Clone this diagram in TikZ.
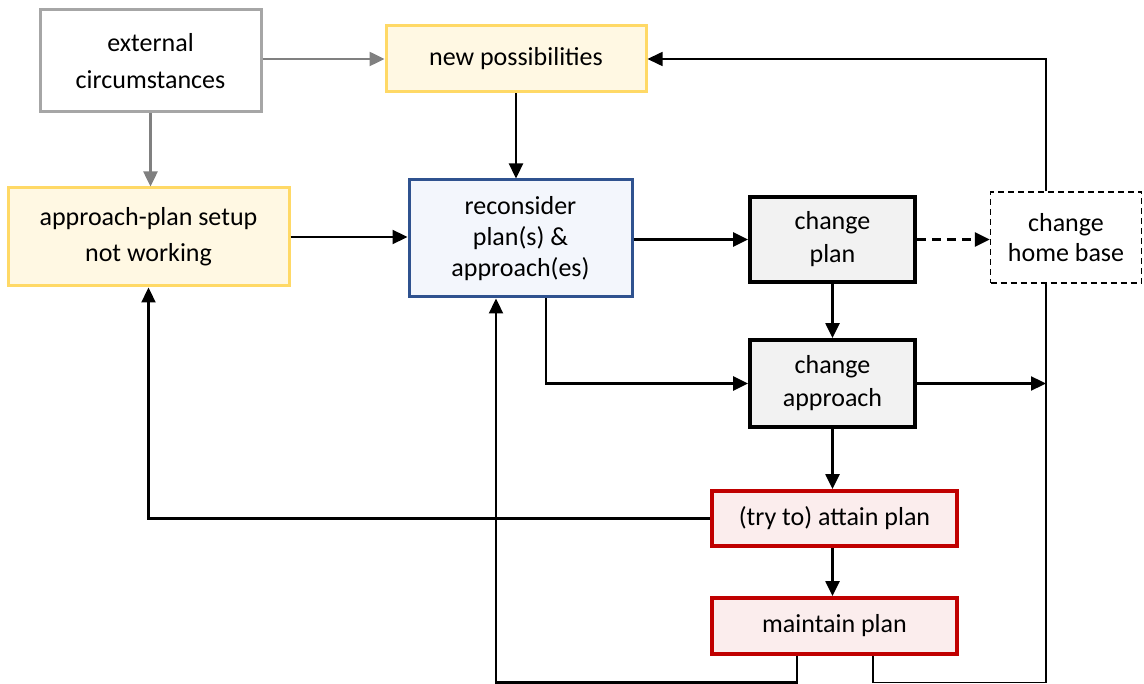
\documentclass[tikz,border=0pt]{standalone}
\usepackage{fontspec}
\setmainfont{Carlito}
\usetikzlibrary{arrows.meta}
\definecolor{ylwb}{HTML}{FFD966}
\definecolor{ylwf}{HTML}{FFF8E3}
\definecolor{blub}{HTML}{2F528F}
\definecolor{bluf}{HTML}{F3F6FC}
\definecolor{grb}{HTML}{A6A6A6}
\definecolor{grf}{HTML}{F2F2F2}
\definecolor{redb}{HTML}{C00000}
\definecolor{redf}{HTML}{FBEDED}
\definecolor{garr}{HTML}{808080}
\begin{document}
\begin{tikzpicture}[x=1pt,y=-1pt,
  box/.style={rectangle,inner sep=0pt,align=center,line width=3pt,
    font=\fontsize{26}{33}\selectfont},
  extbox/.style={box,draw=grb,fill=white},
  ylwbox/.style={box,draw=ylwb,fill=ylwf},
  blubox/.style={box,draw=blub,fill=bluf},
  grbox/.style={box,draw=black,fill=grf,line width=3.8pt},
  dbox/.style={box,draw=black,fill=white,dashed,line width=1.3pt,dash pattern=on 6pt off 4pt},
  redbox/.style={box,draw=redb,fill=redf,line width=3.8pt},
  arr/.style={line width=2.3pt,-{Triangle[length=15pt,width=14pt]}},
  garrow/.style={arr,draw=garr,line width=2.5pt,-{Triangle[length=15pt,width=14pt,fill=garr]}},
  thinl/.style={line width=1.6pt}]
\useasboundingbox (0,0) rectangle (1144,684);
\node[extbox,minimum width=221,minimum height=102,font=\fontsize{26}{37}\selectfont] (ext) at (150.5,61) {external\\circumstances};
\node[ylwbox,minimum width=260,minimum height=66] (newp) at (516,59) {new possibilities};
\node[ylwbox,minimum width=281,minimum height=98,font=\fontsize{26}{36}\selectfont] (appr) at (148.5,237) {approach-plan setup\\not working};
\node[blubox,minimum width=223,minimum height=117,font=\fontsize{26}{31}\selectfont] (recon) at (520.5,238.5) {reconsider\\plan(s) \&\\approach(es)};
\node[grbox,minimum width=165,minimum height=85] (cplan) at (832.5,239.5) {change\\plan};
\node[dbox,minimum width=151,minimum height=91,font=\fontsize{26}{30}\selectfont] (home) at (1066,237.5) {change\\home base};
\node[grbox,minimum width=165,minimum height=87] (cappr) at (832.5,383.5) {change\\approach};
\node[redbox,minimum width=245,minimum height=55] (attain) at (834.5,518.5) {(try to) attain plan};
\node[redbox,minimum width=245,minimum height=56] (maint) at (834.5,626) {maintain plan};
\coordinate (vx) at (1046,0);
\coordinate (bot) at (0,682.5);
\coordinate (ml) at ([xshift=-37.5]maint.south);
\coordinate (mr) at ([xshift=38.5]maint.south);
\coordinate (rl) at ([xshift=-24.5]recon.south);
\coordinate (rr) at ([xshift=25.5]recon.south);
% connectors
\draw[garrow] (ext.east|-newp) -- (newp.west);
\draw[garrow] (ext.south) -- (ext.south|-appr.north);
\draw[arr] (newp.south) -- (newp.south|-recon.north);
\draw[arr] (appr.east) -- (appr.east-|recon.west);
\draw[arr] (recon.east|-cplan.west) -- (cplan.west);
\draw[arr,dash pattern=on 9pt off 6pt] (cplan.east) -- (cplan.east-|home.west);
\draw[thinl,-{Triangle[length=15pt,width=14pt]}] (home.north-|vx) |- (newp.east);
\draw[arr] (cplan.south) -- (cappr.north);
\draw[arr] (rr) |- (cappr.west);
\draw[arr] (cappr.east) -- (cappr.east-|vx);
\draw[arr] (cappr.south) -- (cappr.south|-attain.north);
\draw[arr] (attain.west) -| (appr.south);
\draw[arr] (attain.south-|cappr) -- (cappr|-maint.north);
\draw[arr] (ml) -- (ml|-bot) -| (rl);
\draw[thinl] (mr) -- (mr|-bot) -| (home.south-|vx);
\end{tikzpicture}
\end{document}
